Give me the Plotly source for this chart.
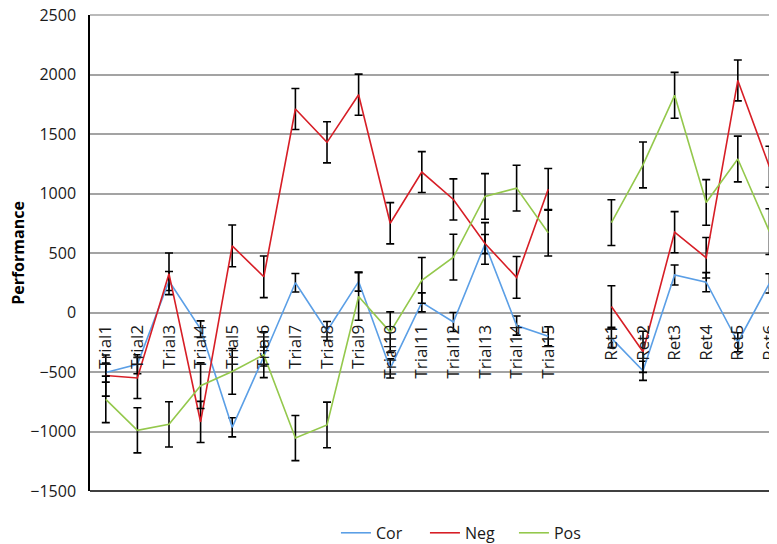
import plotly.graph_objects as go

categories = ["Trial1", "Trial2", "Trial3", "Trial4", "Trial5", "Trial6", "Trial7",
              "Trial8", "Trial9", "Trial10", "Trial11", "Trial12", "Trial13", "Trial14",
              "Trial15", " ", "Ret1", "Ret2", "Ret3", "Ret4", "Ret5", "Ret6"]

cor = [-505, -435, 265, -140, -965, -370, 250, -155, 260, -470, 85, -80, 575, -110,
       -200, None, -215, -490, 315, 255, -250, 245]
cor_err = [80, 80, 80, 70, 80, 80, 78, 80, 80, 80, 80, 80, 80, 80,
           80, None, 80, 80, 84, 80, 80, 81]

neg = [-530, -550, 325, -920, 560, 300, 1710, 1430, 1830, 750, 1180, 950, 580, 295,
       1035, None, 50, -330, 675, 460, 1950, 1225]
neg_err = [173, 173, 175, 173, 175, 175, 172, 173, 173, 173, 172, 173, 175, 175,
           175, None, 175, 173, 173, 170, 172, 172]

pos = [-730, -990, -940, -615, -495, -355, -1055, -945, 135, -165, 270, 465, 975, 1045,
       670, None, 755, 1240, 1825, 925, 1290, 680]
pos_err = [195, 190, 190, 192, 192, 192, 190, 192, 200, 170, 192, 192, 192, 192,
           195, None, 192, 193, 193, 192, 192, 192]

series = [("Cor", cor, cor_err, "#5B9FE6"),
          ("Neg", neg, neg_err, "#D71E26"),
          ("Pos", pos, pos_err, "#94C84C")]

FONT = "Open Sans"

fig = go.Figure()
for name, vals, errs, color in series:
    fig.add_trace(go.Scatter(
        x=categories, y=vals, name=name, mode="lines",
        line=dict(color=color, width=1.6),
        connectgaps=False,
        error_y=dict(type="data", array=[e if e is not None else 0 for e in errs],
                     visible=True, color="#000000", thickness=1.6, width=4),
    ))

# bottom border line and top gridline of the plot area
fig.add_shape(type="line", xref="paper", yref="paper", x0=0, x1=1, y0=0, y1=0,
              line=dict(color="#000000", width=1.5))
fig.add_shape(type="line", xref="paper", yref="paper", x0=0, x1=1, y0=1, y1=1,
              line=dict(color="#a3a3a3", width=1.5), layer="below")

fig.add_annotation(text="<b>Performance</b>", xref="paper", yref="paper",
                   x=-0.105, y=0.5, xanchor="center", yanchor="middle",
                   textangle=-90, showarrow=False,
                   font=dict(family=FONT, size=16, color="#000000"))

# page body has an 8px margin, so the figure is sized to end at the window edge
fig.update_layout(
    width=769, height=536,
    margin=dict(l=82, r=0, t=7, b=53, autoexpand=False),
    paper_bgcolor="white", plot_bgcolor="white",
    showlegend=True,
    legend=dict(orientation="h", x=0.358, xanchor="left", y=-0.088, yanchor="middle",
                font=dict(family=FONT, size=16, color="#1a1a1a"),
                entrywidth=44, entrywidthmode="pixels", bgcolor="rgba(0,0,0,0)"),
    xaxis=dict(
        type="category", categoryorder="array", categoryarray=categories,
        range=[-0.5, 21.24], anchor="free", position=0.375, automargin=False,
        showgrid=False, zeroline=False, showline=False,
        ticks="", tickangle=-90, ticklabelstandoff=8, ticklabeloverflow="allow",
        tickfont=dict(family=FONT, size=17, color="#1a1a1a"),
    ),
    yaxis=dict(
        range=[-1500, 2500], dtick=500, tick0=0, automargin=False,
        showgrid=True, gridcolor="#a3a3a3", gridwidth=1.5,
        zeroline=True, zerolinecolor="#a3a3a3", zerolinewidth=1.5,
        showline=True, linecolor="#000000", linewidth=1.5,
        ticks="", ticklabelstandoff=9, ticklabeloverflow="allow",
        tickfont=dict(family=FONT, size=16, color="#1a1a1a"),
    ),
)

fig.write_html("out.html")
